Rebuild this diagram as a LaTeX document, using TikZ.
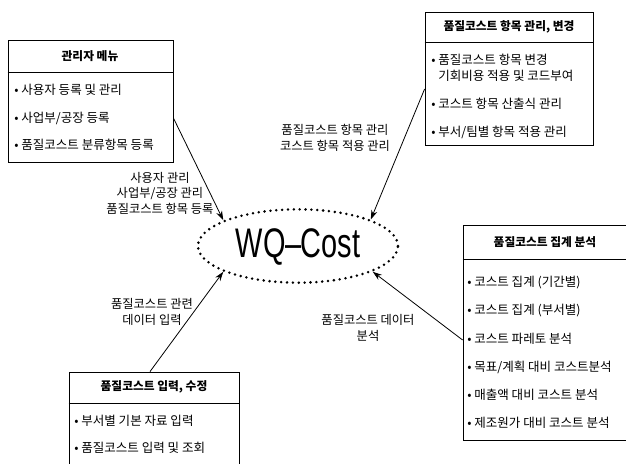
\documentclass[tikz,border=0pt]{standalone}
\usepackage{fontspec}
\setmainfont{Noto Sans CJK KR}
\newfontfamily\latinsans{Liberation Sans}
\usetikzlibrary{arrows.meta,shapes.geometric,fit}
\begin{document}
\begin{tikzpicture}[x=0.75pt,y=-0.75pt,
  box/.style={draw,line width=0.6pt,inner sep=0pt},
  ttl/.style={font=\fontsize{8.8}{10}\selectfont\bfseries,inner sep=0pt},
  itm/.style={font=\fontsize{9.4}{11}\selectfont,anchor=west,inner sep=0pt},
  lbl/.style={font=\fontsize{9.2}{11.6}\selectfont,align=center,inner sep=0pt},
  arr/.style={-{Stealth[length=7pt,width=4.6pt]},line width=0.6pt}]
\useasboundingbox (0,0) rectangle (626,464);
\clip (0,0) rectangle (626,464);

% central ellipse
\node[ellipse,draw,line width=2.1pt,dash pattern=on 0pt off 4.4pt,line cap=round,
      minimum width=150pt,minimum height=55pt,inner sep=0pt] (wq) at (298,246) {};
\node[font=\latinsans\fontsize{31}{31}\selectfont,inner sep=0pt] (wqt) at (298,247)
  {\scalebox{0.7}[1]{WQ\kern-0.02em–\kern-0.02em Cost}};

% box 1
\node[box,fit={(8,40) (173,162)}] (b1) {};
\draw[line width=0.6pt] (b1.west |- 0,72) -- (b1.east |- 0,72);
\node[ttl] (b1t) at (90,56) {관리자 메뉴};
\node[itm] (b1a) at (14,90) {• 사용자 등록 및 관리};
\node[itm] (b1b) at (14,118) {• 사업부/공장 등록};
\node[itm] (b1c) at (14,145) {• 품질코스트 분류항목 등록};

% box 2
\node[box,fit={(425,12) (593,145)}] (b2) {};
\draw[line width=0.6pt] (b2.west |- 0,42) -- (b2.east |- 0,42);
\node[ttl] (b2t) at (509,27) {품질코스트 항목 관리, 변경};
\node[itm] (b2a) at (431,60) {• 품질코스트 항목 변경};
\node[itm] (b2b) at (438,76) {기회비용 적용 및 코드부여};
\node[itm] (b2c) at (431,104) {• 코스트 항목 산출식 관리};
\node[itm] (b2d) at (431,132) {• 부서/팀별 항목 적용 관리};

% box 3
\node[box,fit={(463,225) (640,440)}] (b3) {};
\draw[line width=0.6pt] (b3.west |- 0,259) -- (b3.east |- 0,259);
\node[ttl] (b3t) at (545,242) {품질코스트 집계 분석};
\node[itm] (b3a) at (467,283) {• 코스트 집계 (기간별)};
\node[itm] (b3b) at (467,311) {• 코스트 집계 (부서별)};
\node[itm] (b3c) at (467,339) {• 코스트 파레토 분석};
\node[itm] (b3d) at (467,367) {• 목표/계획 대비 코스트분석};
\node[itm] (b3e) at (467,395) {• 매출액 대비 코스트 분석};
\node[itm] (b3f) at (467,423) {• 제조원가 대비 코스트 분석};

% box 4
\node[box,fit={(69,372) (239,480)}] (b4) {};
\draw[line width=0.6pt] (b4.west |- 0,403) -- (b4.east |- 0,403);
\node[ttl] (b4t) at (154,387) {품질코스트 입력, 수정};
\node[itm] (b4a) at (74,421) {• 부서별 기본 자료 입력};
\node[itm] (b4b) at (74,448) {• 품질코스트 입력 및 조회};

% connectors
\coordinate (s1) at (b1.east |- 0,118);
\coordinate (s2) at (b2.west |- 0,89);
\coordinate (s3) at (b3.west |- 0,340);
\coordinate (s4) at (b4.north -| 150,0);
\draw[arr] (s1) -- (wq.161);
\draw[arr] (s2) -- (wq.20);
\draw[arr] (s3) -- (wq.341);
\draw[arr] (s4) -- (wq.199);

% connector labels
\node[lbl] (l1) at (160,193) {사용자 관리\\사업부/공장 관리\\품질코스트 항목 등록};
\node[lbl] (l2) at (335,138) {품질코스트 항목 관리\\코스트 항목 적용 관리};
\node[lbl] (l3) at (368,328) {품질코스트 데이터\\분석};
\node[lbl] (l4) at (152,312) {품질코스트 관련\\데이터 입력};
\end{tikzpicture}
\end{document}
